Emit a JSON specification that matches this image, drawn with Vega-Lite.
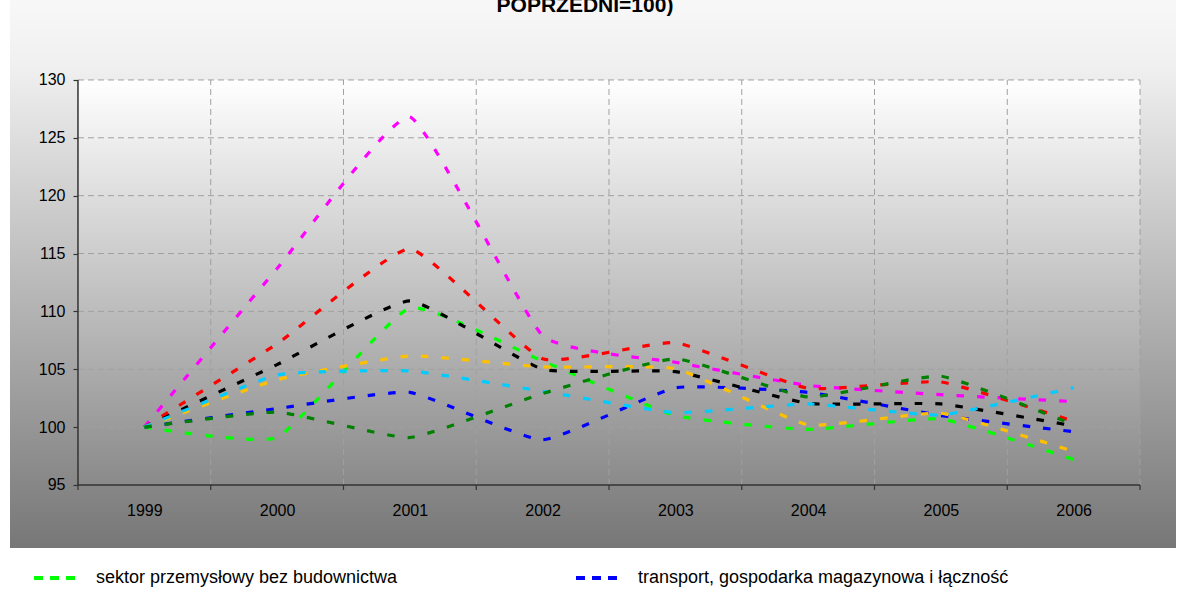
{
  "$schema": "https://vega.github.io/schema/vega-lite/v6.json",
  "width": 1166,
  "height": 548,
  "autosize": {"type": "none"},
  "padding": {"left": 10, "top": 0, "right": 10, "bottom": 49},
  "background": "white",
  "title": {
    "text": "POPRZEDNI=100)",
    "anchor": "middle",
    "frame": "group",
    "orient": "top",
    "offset": -16,
    "dx": -8,
    "font": "Liberation Sans",
    "fontSize": 21,
    "fontWeight": "bold",
    "color": "black"
  },
  "config": {
    "view": {
      "stroke": null,
      "fill": {
        "gradient": "linear",
        "x1": 0, "y1": 0, "x2": 0, "y2": 1,
        "stops": [
          {"offset": 0, "color": "#f8f8f8"},
          {"offset": 0.12, "color": "#f0f0f0"},
          {"offset": 1, "color": "#777777"}
        ]
      }
    },
    "axis": {
      "labelFont": "Liberation Sans",
      "labelColor": "black",
      "labelFontSize": 16,
      "domain": false,
      "grid": false,
      "tickColor": "#333333",
      "tickWidth": 1.2
    }
  },
  "data": {
    "values": [
      {"series": "sektor przemysłowy bez budownictwa", "year": 1999, "value": 100},
      {"series": "sektor przemysłowy bez budownictwa", "year": 2000, "value": 99.1},
      {"series": "sektor przemysłowy bez budownictwa", "year": 2001, "value": 110.3},
      {"series": "sektor przemysłowy bez budownictwa", "year": 2002, "value": 105.7},
      {"series": "sektor przemysłowy bez budownictwa", "year": 2003, "value": 101.0},
      {"series": "sektor przemysłowy bez budownictwa", "year": 2004, "value": 99.8},
      {"series": "sektor przemysłowy bez budownictwa", "year": 2005, "value": 100.7},
      {"series": "sektor przemysłowy bez budownictwa", "year": 2006, "value": 97.2},
      {"series": "transport, gospodarka magazynowa i łączność", "year": 1999, "value": 100},
      {"series": "transport, gospodarka magazynowa i łączność", "year": 2000, "value": 101.6},
      {"series": "transport, gospodarka magazynowa i łączność", "year": 2001, "value": 103.0},
      {"series": "transport, gospodarka magazynowa i łączność", "year": 2002, "value": 98.9},
      {"series": "transport, gospodarka magazynowa i łączność", "year": 2003, "value": 103.4},
      {"series": "transport, gospodarka magazynowa i łączność", "year": 2004, "value": 103.0},
      {"series": "transport, gospodarka magazynowa i łączność", "year": 2005, "value": 101.0},
      {"series": "transport, gospodarka magazynowa i łączność", "year": 2006, "value": 99.6},
      {"series": "pośrednictwo finansowe", "year": 1999, "value": 100},
      {"series": "pośrednictwo finansowe", "year": 2000, "value": 113.7},
      {"series": "pośrednictwo finansowe", "year": 2001, "value": 126.8},
      {"series": "pośrednictwo finansowe", "year": 2002, "value": 107.9},
      {"series": "pośrednictwo finansowe", "year": 2003, "value": 105.6},
      {"series": "pośrednictwo finansowe", "year": 2004, "value": 103.6},
      {"series": "pośrednictwo finansowe", "year": 2005, "value": 102.8},
      {"series": "pośrednictwo finansowe", "year": 2006, "value": 102.2},
      {"series": "obsługa nieruchomości i firm", "year": 1999, "value": 100},
      {"series": "obsługa nieruchomości i firm", "year": 2000, "value": 107.2},
      {"series": "obsługa nieruchomości i firm", "year": 2001, "value": 115.4},
      {"series": "obsługa nieruchomości i firm", "year": 2002, "value": 105.9},
      {"series": "obsługa nieruchomości i firm", "year": 2003, "value": 107.3},
      {"series": "obsługa nieruchomości i firm", "year": 2004, "value": 103.35},
      {"series": "obsługa nieruchomości i firm", "year": 2005, "value": 103.9},
      {"series": "obsługa nieruchomości i firm", "year": 2006, "value": 100.5},
      {"series": "ogółem", "year": 1999, "value": 100},
      {"series": "ogółem", "year": 2000, "value": 105.4},
      {"series": "ogółem", "year": 2001, "value": 110.9},
      {"series": "ogółem", "year": 2002, "value": 105.0},
      {"series": "ogółem", "year": 2003, "value": 104.8},
      {"series": "ogółem", "year": 2004, "value": 102.05},
      {"series": "ogółem", "year": 2005, "value": 102.0},
      {"series": "ogółem", "year": 2006, "value": 100.1},
      {"series": "handel i naprawy", "year": 1999, "value": 100},
      {"series": "handel i naprawy", "year": 2000, "value": 104.1},
      {"series": "handel i naprawy", "year": 2001, "value": 106.15},
      {"series": "handel i naprawy", "year": 2002, "value": 105.2},
      {"series": "handel i naprawy", "year": 2003, "value": 105.05},
      {"series": "handel i naprawy", "year": 2004, "value": 100.2},
      {"series": "handel i naprawy", "year": 2005, "value": 101.2},
      {"series": "handel i naprawy", "year": 2006, "value": 97.9},
      {"series": "hotele i restauracje", "year": 1999, "value": 100},
      {"series": "hotele i restauracje", "year": 2000, "value": 104.5},
      {"series": "hotele i restauracje", "year": 2001, "value": 104.85},
      {"series": "hotele i restauracje", "year": 2002, "value": 103.1},
      {"series": "hotele i restauracje", "year": 2003, "value": 101.25},
      {"series": "hotele i restauracje", "year": 2004, "value": 102.0},
      {"series": "hotele i restauracje", "year": 2005, "value": 101.05},
      {"series": "hotele i restauracje", "year": 2006, "value": 103.4},
      {"series": "budownictwo", "year": 1999, "value": 100},
      {"series": "budownictwo", "year": 2000, "value": 101.3},
      {"series": "budownictwo", "year": 2001, "value": 99.1},
      {"series": "budownictwo", "year": 2002, "value": 102.9},
      {"series": "budownictwo", "year": 2003, "value": 105.9},
      {"series": "budownictwo", "year": 2004, "value": 102.6},
      {"series": "budownictwo", "year": 2005, "value": 104.4},
      {"series": "budownictwo", "year": 2006, "value": 100.2}
    ]
  },
  "layer": [
    {
      "data": {"values": [{}]},
      "mark": {
        "type": "rect",
        "fill": {
          "gradient": "linear",
          "x1": 0, "y1": 0, "x2": 0, "y2": 1,
          "stops": [
            {"offset": 0, "color": "#ffffff"},
            {"offset": 1, "color": "#8a8a8a"}
          ]
        }
      },
      "encoding": {
        "x": {"datum": 1998.5, "type": "quantitative", "scale": {"domain": [1997.988, 2006.771], "nice": false, "zero": false}},
        "x2": {"datum": 2006.5},
        "y": {"datum": 95, "type": "quantitative", "scale": {"domain": [89.55, 136.91], "nice": false, "zero": false}},
        "y2": {"datum": 130}
      }
    },
    {
      "data": {"values": [{"v": 100}, {"v": 105}, {"v": 110}, {"v": 115}, {"v": 120}, {"v": 125}, {"v": 130}]},
      "mark": {"type": "rule", "color": "#a0a0a0", "strokeWidth": 1, "strokeDash": [6, 4]},
      "encoding": {
        "y": {"field": "v", "type": "quantitative"},
        "x": {"datum": 1998.5, "type": "quantitative"},
        "x2": {"datum": 2006.5}
      }
    },
    {
      "data": {"values": [{"v": 1999.5}, {"v": 2000.5}, {"v": 2001.5}, {"v": 2002.5}, {"v": 2003.5}, {"v": 2004.5}, {"v": 2005.5}, {"v": 2006.5}]},
      "mark": {"type": "rule", "color": "#a0a0a0", "strokeWidth": 1, "strokeDash": [6, 4]},
      "encoding": {
        "x": {"field": "v", "type": "quantitative"},
        "y": {"datum": 95, "type": "quantitative"},
        "y2": {"datum": 130}
      }
    },
    {
      "data": {"values": [{"v": 1998.5}, {"v": 1999.5}, {"v": 2000.5}, {"v": 2001.5}, {"v": 2002.5}, {"v": 2003.5}, {"v": 2004.5}, {"v": 2005.5}, {"v": 2006.5}]},
      "mark": {"type": "rule", "color": "#333333", "strokeWidth": 1.2},
      "encoding": {
        "x": {"field": "v", "type": "quantitative"},
        "y": {"datum": 95, "type": "quantitative"},
        "y2": {"datum": 94.57}
      }
    },
    {
      "data": {"values": [{}]},
      "mark": {"type": "rule", "color": "#333333", "strokeWidth": 1.5},
      "encoding": {
        "x": {"datum": 1998.5, "type": "quantitative"},
        "x2": {"datum": 2006.5},
        "y": {"datum": 95, "type": "quantitative"}
      }
    },
    {
      "data": {"values": [{}]},
      "mark": {"type": "rule", "color": "#333333", "strokeWidth": 1.5},
      "encoding": {
        "x": {"datum": 1998.5, "type": "quantitative"},
        "y": {"datum": 95, "type": "quantitative"},
        "y2": {"datum": 130}
      }
    },
    {
      "mark": {"type": "line", "interpolate": "cardinal", "tension": 0.6, "strokeWidth": 3.2, "strokeDash": [7.5, 13], "strokeCap": "butt"},
      "encoding": {
        "x": {
          "field": "year",
          "type": "quantitative",
          "scale": {"domain": [1997.988, 2006.771], "nice": false, "zero": false},
          "axis": {
            "title": null,
            "values": [1999, 2000, 2001, 2002, 2003, 2004, 2005, 2006],
            "format": "d",
            "labelFlush": false,
            "ticks": false,
            "offset": -63,
            "labelPadding": 17
          }
        },
        "y": {
          "field": "value",
          "type": "quantitative",
          "scale": {"domain": [89.55, 136.91], "nice": false, "zero": false},
          "axis": {
            "title": null,
            "values": [95, 100, 105, 110, 115, 120, 125, 130],
            "tickSize": 5,
            "offset": -68,
            "labelPadding": 8
          }
        },
        "color": {
          "field": "series",
          "type": "nominal",
          "scale": {
            "domain": [
              "sektor przemysłowy bez budownictwa",
              "transport, gospodarka magazynowa i łączność",
              "pośrednictwo finansowe",
              "obsługa nieruchomości i firm",
              "ogółem",
              "handel i naprawy",
              "hotele i restauracje",
              "budownictwo"
            ],
            "range": ["#00ff00", "#0000ff", "#ff00ff", "#ff0000", "#000000", "#ffc000", "#00ccff", "#008000"]
          },
          "legend": {
            "orient": "none",
            "legendX": 22,
            "legendY": 554,
            "direction": "horizontal",
            "columns": 2,
            "columnPadding": 170,
            "values": ["sektor przemysłowy bez budownictwa", "transport, gospodarka magazynowa i łączność"],
            "title": null,
            "padding": 0,
            "symbolType": "stroke",
            "symbolSize": 1936,
            "symbolStrokeWidth": 4,
            "symbolDash": [9, 7],
            "labelFont": "Liberation Sans",
            "labelFontSize": 18,
            "labelColor": "black",
            "labelOffset": 16,
            "labelLimit": 600
          }
        }
      }
    }
  ]
}
